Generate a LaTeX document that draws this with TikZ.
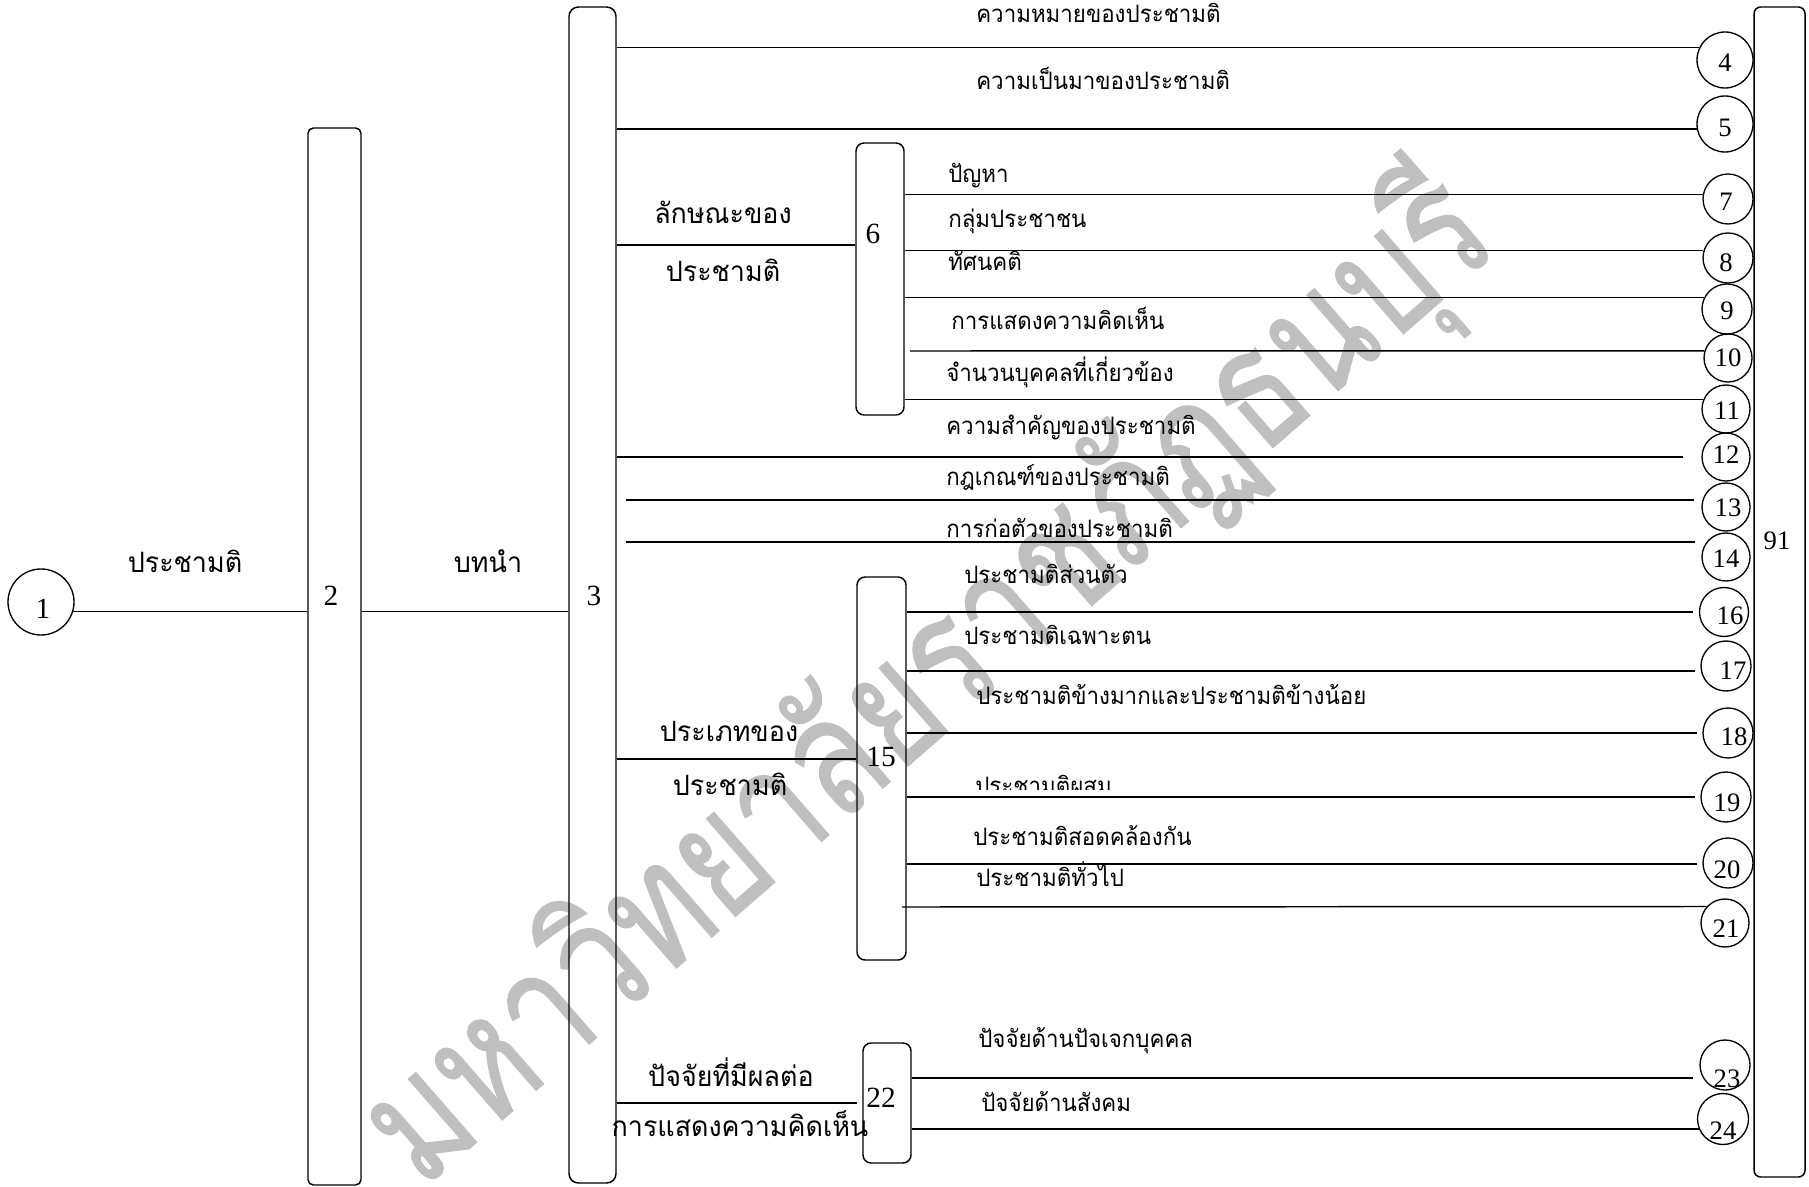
\documentclass[tikz,border=0pt]{standalone}
\usepackage{fontspec}
\setmainfont{Liberation Serif}
\newfontfamily\thaifont[Script=Thai, FakeStretch=0.93]{Loma}
\newfontfamily\thaifontL[Script=Thai, FakeStretch=0.96]{Loma}
\newfontfamily\thaifontW[Script=Thai, FakeBold=0.7]{Loma}
\begin{document}
\begin{tikzpicture}[x=0.75pt,y=-0.75pt,
  ln/.style={line width=1.1pt},
  bar/.style={draw, line width=1.1pt, rounded corners=#1, inner sep=0pt},
  circ/.style={draw, circle, line width=1pt, inner sep=0pt, minimum size=#1},
  num/.style={font=\fontsize{20}{20}\selectfont, inner sep=0pt, text height=13.5pt, text depth=0pt},
  bnum/.style={font=\fontsize{22}{22}\selectfont, inner sep=0pt, text height=15pt, text depth=0pt},
  sl/.style={font=\thaifont\fontsize{18}{18}\selectfont, inner sep=0pt, anchor=west, text height=9pt, text depth=0pt},
  ll/.style={font=\thaifontL\fontsize{21}{21}\selectfont, inner sep=0pt, text height=10.5pt, text depth=0pt},
  wm/.style={rotate=41.1, text=black!25, font=\thaifontW, inner sep=0pt}
]
\useasboundingbox (0,0) rectangle (1809,1187);
% watermark
\node[wm] (wm) at (930,682) {\scalebox{1}[1.28]{\resizebox{1075pt}{!}{มหาวิทยาลัยราชภัฏธนบุรี}}};

% bars and boxes
\node[bar=4pt, minimum width=39.75pt, minimum height=792.75pt] (b2) at (334.5,656.5) {};
\node[bar=7pt, minimum width=35.25pt, minimum height=882pt] (b3) at (592.5,595) {};
\node[bar=5pt, minimum width=38.25pt, minimum height=877.5pt] (b91) at (1779.5,592) {};
\node[bar=6pt, minimum width=36pt, minimum height=204pt] (b6) at (880,279) {};
\node[bar=6pt, minimum width=36.75pt, minimum height=287.25pt] (b15) at (881.5,768.5) {};
\node[bar=6pt, minimum width=36pt, minimum height=90pt] (b22) at (887,1103) {};

\node[bnum] (n2) at (331,595) {2};
\node[bnum] (n3) at (594,595) {3};
\node[bnum] (n6) at (873,234) {6};
\node[bnum] (n15) at (881,756) {15};
\node[bnum] (n22) at (881,1097) {22};
\node[num] (n91) at (1777,540) {91};

% circles
\node[circ=49.5pt] (c1) at (41,602) {};
\node[bnum] (n1) at (43,608) {1};
\node[circ=42pt] (c4) at (1725,60) {};
\node[circ=42pt] (c5) at (1725,124) {};
\node[circ=37.5pt] (c7) at (1728,199) {};
\node[circ=37.5pt] (c8) at (1728,258) {};
\node[circ=37.5pt] (c9) at (1727,309) {};
\node[circ=36pt] (c10) at (1728,358) {};
\node[circ=36pt] (c11) at (1726,409) {};
\node[circ=36pt] (c12) at (1726,457) {};
\node[circ=36pt] (c13) at (1726,507) {};
\node[circ=36pt] (c14) at (1726,557) {};
\node[circ=36.75pt] (c16) at (1724,612) {};
\node[circ=37.5pt] (c17) at (1726,666) {};
\node[circ=37.5pt] (c18) at (1728,733) {};
\node[circ=37.5pt] (c19) at (1726,797) {};
\node[circ=37.5pt] (c20) at (1728,863) {};
\node[circ=36pt] (c21) at (1725,923) {};
\node[circ=37.5pt] (c23) at (1725,1065) {};
\node[circ=38.25pt] (c24) at (1723,1119) {};

\node[num] (n4) at (1725,63) {4};
\node[num] (n5) at (1725,128) {5};
\node[num] (n7) at (1726,202) {7};
\node[num] (n8) at (1726,263) {8};
\node[num] (n9) at (1727,311) {9};
\node[num] (n10) at (1728,358) {10};
\node[num] (n11) at (1727,410) {11};
\node[num] (n12) at (1726,454) {12};
\node[num] (n13) at (1728,507) {13};
\node[num] (n14) at (1726,558) {14};
\node[num] (n16) at (1730,615) {16};
\node[num] (n17) at (1733,670) {17};
\node[num] (n18) at (1734,736) {18};
\node[num] (n19) at (1727,802) {19};
\node[num] (n20) at (1727,869) {20};
\node[num] (n21) at (1726,928) {21};
\node[num] (n23) at (1727,1078) {23};
\node[num] (n24) at (1723,1130) {24};

% free ends
\coordinate (s10) at (910,351);
\coordinate (s13) at (626,500);
\coordinate (s14) at (626,542);
\coordinate (s21) at (902,907);
\coordinate (e12) at (1683,457);
\coordinate (e13) at (1694,500);
\coordinate (e14) at (1695,542);
\coordinate (e16) at (1693,612);
\coordinate (e17) at (1695,671);
\coordinate (e18) at (1697,733);
\coordinate (e19) at (1695,797);
\coordinate (e20) at (1697,864);
\coordinate (e22) at (857,1103);
\coordinate (e23) at (1693,1078);

% connectors
\draw[ln] (c1.344) -- (b2.west |- c1.344);
\draw[ln] (b2.east |- c1.344) -- (b3.west |- c1.344);
\draw[ln] (b3.east |- c4.154.6) -- (c4.154.6);
\draw[ln] (b3.east |- c5.190.3) -- (c5.190.3);
\draw[ln] (b3.east |- 0,245) -- (b6.west |- 0,245);
\draw[ln] (b6.east |- c7.170.8) -- (c7.170.8);
\draw[ln] (b6.east |- c8.163.7) -- (c8.163.7);
\draw[ln] (b6.east |- c9.153.9) -- (c9.153.9);
\draw[ln] (s10) -- (c10.163);
\draw[ln] (b6.east |- c11.158) -- (c11.158);
\draw[ln] (b3.east |- e12) -- (e12);
\draw[ln] (s13) -- (e13);
\draw[ln] (s14) -- (e14);
\draw[ln] (b3.east |- 0,759) -- (b15.west |- 0,759);
\draw[ln] (b15.east |- e16) -- (e16);
\draw[ln] (b15.east |- e17) -- (e17);
\draw[ln] (b15.east |- e18) -- (e18);
\draw[ln] (b15.east |- e19) -- (e19);
\draw[ln] (b15.east |- e20) -- (e20);
\draw[ln] (s21) -- (c21.138.2);
\draw[ln] (b3.east |- e22) -- (e22);
\draw[ln] (b22.east |- e23) -- (e23);
\draw[ln] (b22.east |- c24.203.1) -- (c24.203.1);

% labels
\node[ll] (la) at (185,565) {ประชามติ};
\node[ll] (lb) at (488,565) {บทนำ};
\node[ll] (lc1) at (723,217) {ลักษณะของ};
\node[ll] (lc2) at (723,275) {ประชามติ};
\node[ll] (ld1) at (729,734) {ประเภทของ};
\node[ll] (ld2) at (730,788) {ประชามติ};
\node[ll] (le1) at (731,1079) {ปัจจัยที่มีผลต่อ};
\node[ll] (le2) at (740,1129) {การแสดงความคิดเห็น};

\node[sl] (l4) at (976,17) {ความหมายของประชามติ};
\node[sl] (l5) at (976,84) {ความเป็นมาของประชามติ};
\node[sl] (l7) at (948,177) {ปัญหา};
\node[sl] (l8) at (948,222) {กลุ่มประชาชน};
\node[sl] (l9) at (948,265) {ทัศนคติ};
\node[sl] (l10) at (951,324) {การแสดงความคิดเห็น};
\node[sl] (l11) at (946,376) {จำนวนบุคคลที่เกี่ยวข้อง};
\node[sl] (l12) at (946,428) {ความสำคัญของประชามติ};
\node[sl] (l13) at (946,479) {กฎเกณฑ์ของประชามติ};
\node[sl] (l14) at (946,531) {การก่อตัวของประชามติ};
\node[sl] (l16) at (964,577) {ประชามติส่วนตัว};
\node[sl] (l17) at (964,638) {ประชามติเฉพาะตน};
\node[sl] (l18) at (976,698) {ประชามติข้างมากและประชามติข้างน้อย};
\begin{scope}
\clip (960,770) rectangle (1300,789);
\node[sl] (l19) at (975,788) {ประชามติผสม};
\end{scope}
\node[sl] (l20) at (973,839) {ประชามติสอดคล้องกัน};
\node[sl] (l21) at (976,880) {ประชามติทั่วไป};
\node[sl] (l23) at (978,1041) {ปัจจัยด้านปัจเจกบุคคล};
\node[sl] (l24) at (981,1105) {ปัจจัยด้านสังคม};
\end{tikzpicture}
\end{document}
